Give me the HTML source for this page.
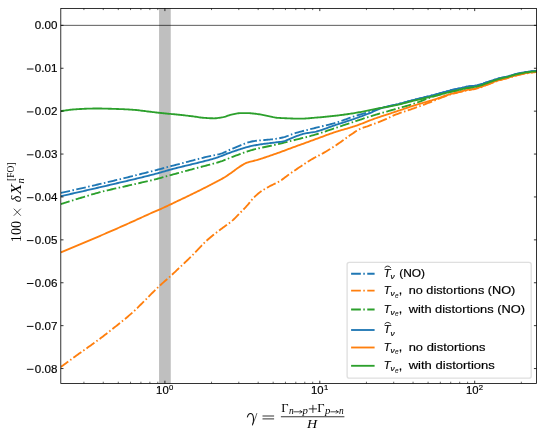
<!DOCTYPE html>
<html><head><meta charset="utf-8"><title>plot</title>
<style>
html,body{margin:0;padding:0;background:#fff;}
svg{display:block;will-change:transform;}
text{font-family:"Liberation Sans",sans-serif;fill:#000;}
.serif{font-family:"Liberation Serif",serif;}
</style></head><body>
<svg width="545" height="436" viewBox="0 0 545 436">
<rect x="0" y="0" width="545" height="436" fill="#fff"/>
<defs><clipPath id="ax"><rect x="60.8" y="8.4" width="475.8" height="375.0"/></clipPath></defs>

<rect x="159.05" y="8.4" width="11.70" height="375.0" fill="#bfbfbf"/>
<line x1="60.8" y1="25.35" x2="536.6" y2="25.35" stroke="#000" stroke-width="0.65"/>
<g clip-path="url(#ax)">
<path d="M60.90,192.90 L62.09,192.64 L63.29,192.37 L64.48,192.11 L65.67,191.84 L66.86,191.58 L68.06,191.31 L69.25,191.05 L70.44,190.78 L71.63,190.51 L72.83,190.24 L74.02,189.97 L75.21,189.70 L76.41,189.43 L77.60,189.16 L78.79,188.89 L79.98,188.62 L81.18,188.35 L82.37,188.07 L83.56,187.80 L84.75,187.53 L85.95,187.25 L87.14,186.98 L88.33,186.70 L89.53,186.42 L90.72,186.15 L91.91,185.87 L93.10,185.59 L94.30,185.31 L95.49,185.03 L96.68,184.76 L97.87,184.48 L99.07,184.19 L100.26,183.91 L101.45,183.63 L102.65,183.35 L103.84,183.07 L105.03,182.78 L106.22,182.50 L107.42,182.22 L108.61,181.93 L109.80,181.65 L110.99,181.36 L112.19,181.08 L113.38,180.79 L114.57,180.50 L115.77,180.21 L116.96,179.92 L118.15,179.63 L119.34,179.34 L120.54,179.05 L121.73,178.76 L122.92,178.47 L124.11,178.18 L125.31,177.88 L126.50,177.59 L127.69,177.30 L128.89,177.00 L130.08,176.71 L131.27,176.41 L132.46,176.11 L133.66,175.82 L134.85,175.52 L136.04,175.22 L137.23,174.92 L138.43,174.62 L139.62,174.32 L140.81,174.02 L142.01,173.72 L143.20,173.42 L144.39,173.11 L145.58,172.81 L146.78,172.51 L147.97,172.20 L149.16,171.90 L150.35,171.59 L151.55,171.29 L152.74,170.98 L153.93,170.67 L155.13,170.37 L156.32,170.06 L157.51,169.75 L158.70,169.43 L159.90,169.12 L161.09,168.80 L162.28,168.49 L163.47,168.17 L164.67,167.85 L165.86,167.53 L167.05,167.21 L168.25,166.89 L169.44,166.58 L170.63,166.26 L171.82,165.94 L173.02,165.62 L174.21,165.31 L175.40,164.99 L176.59,164.68 L177.79,164.36 L178.98,164.05 L180.17,163.73 L181.37,163.42 L182.56,163.10 L183.75,162.79 L184.94,162.47 L186.14,162.16 L187.33,161.84 L188.52,161.53 L189.72,161.22 L190.91,160.91 L192.10,160.60 L193.29,160.28 L194.49,159.97 L195.68,159.66 L196.87,159.34 L198.06,159.03 L199.26,158.72 L200.45,158.41 L201.64,158.11 L202.84,157.81 L204.03,157.51 L205.22,157.22 L206.41,156.94 L207.61,156.67 L208.80,156.42 L209.99,156.17 L211.18,155.93 L212.38,155.69 L213.57,155.44 L214.76,155.19 L215.96,154.93 L217.15,154.65 L218.34,154.35 L219.53,154.04 L220.73,153.69 L221.92,153.30 L223.11,152.86 L224.30,152.37 L225.50,151.85 L226.69,151.31 L227.88,150.75 L229.08,150.18 L230.27,149.62 L231.46,149.07 L232.65,148.55 L233.85,148.06 L235.04,147.59 L236.23,147.11 L237.42,146.61 L238.62,146.12 L239.81,145.62 L241.00,145.12 L242.20,144.63 L243.39,144.15 L244.58,143.69 L245.77,143.25 L246.97,142.84 L248.16,142.45 L249.35,142.09 L250.54,141.77 L251.74,141.50 L252.93,141.26 L254.12,141.07 L255.32,140.90 L256.51,140.75 L257.70,140.61 L258.89,140.48 L260.09,140.36 L261.28,140.26 L262.47,140.15 L263.66,140.06 L264.86,139.96 L266.05,139.87 L267.24,139.77 L268.44,139.67 L269.63,139.56 L270.82,139.45 L272.01,139.32 L273.21,139.18 L274.40,139.03 L275.59,138.86 L276.78,138.68 L277.98,138.48 L279.17,138.27 L280.36,138.03 L281.56,137.78 L282.75,137.51 L283.94,137.22 L285.13,136.87 L286.33,136.47 L287.52,136.01 L288.71,135.52 L289.90,135.03 L291.10,134.54 L292.29,134.09 L293.48,133.69 L294.68,133.32 L295.87,132.97 L297.06,132.62 L298.25,132.28 L299.45,131.95 L300.64,131.63 L301.83,131.31 L303.02,131.00 L304.22,130.70 L305.41,130.40 L306.60,130.10 L307.80,129.80 L308.99,129.51 L310.18,129.21 L311.37,128.92 L312.57,128.62 L313.76,128.32 L314.95,128.01 L316.14,127.71 L317.34,127.41 L318.53,127.12 L319.72,126.83 L320.92,126.55 L322.11,126.27 L323.30,125.98 L324.49,125.70 L325.69,125.42 L326.88,125.13 L328.07,124.84 L329.26,124.54 L330.46,124.23 L331.65,123.92 L332.84,123.60 L334.04,123.27 L335.23,122.92 L336.42,122.56 L337.61,122.19 L338.81,121.80 L340.00,121.39 L341.19,120.98 L342.38,120.56 L343.58,120.13 L344.77,119.70 L345.96,119.26 L347.16,118.83 L348.35,118.40 L349.54,117.97 L350.73,117.54 L351.93,117.12 L353.12,116.72 L354.31,116.32 L355.50,115.94 L356.70,115.57 L357.89,115.20 L359.08,114.84 L360.28,114.49 L361.47,114.14 L362.66,113.79 L363.85,113.45 L365.05,113.10 L366.24,112.75 L367.43,112.39 L368.62,112.03 L369.82,111.66 L371.01,111.28 L372.20,110.88 L373.40,110.47 L374.59,110.05 L375.78,109.64 L376.97,109.23 L378.17,108.84 L379.36,108.46 L380.55,108.11 L381.74,107.78 L382.94,107.47 L384.13,107.18 L385.32,106.89 L386.52,106.62 L387.71,106.35 L388.90,106.09 L390.09,105.84 L391.29,105.58 L392.48,105.33 L393.67,105.08 L394.86,104.82 L396.06,104.56 L397.25,104.29 L398.44,104.02 L399.64,103.73 L400.83,103.43 L402.02,103.13 L403.21,102.81 L404.41,102.49 L405.60,102.16 L406.79,101.83 L407.98,101.50 L409.18,101.17 L410.37,100.84 L411.56,100.52 L412.76,100.19 L413.95,99.88 L415.14,99.57 L416.33,99.27 L417.53,98.98 L418.72,98.69 L419.91,98.40 L421.11,98.12 L422.30,97.84 L423.49,97.56 L424.68,97.27 L425.88,96.99 L427.07,96.70 L428.26,96.41 L429.45,96.11 L430.65,95.81 L431.84,95.50 L433.03,95.18 L434.23,94.87 L435.42,94.55 L436.61,94.22 L437.80,93.90 L439.00,93.57 L440.19,93.25 L441.38,92.92 L442.57,92.58 L443.77,92.23 L444.96,91.89 L446.15,91.54 L447.35,91.21 L448.54,90.88 L449.73,90.57 L450.92,90.27 L452.12,89.98 L453.31,89.70 L454.50,89.42 L455.69,89.15 L456.89,88.89 L458.08,88.62 L459.27,88.36 L460.47,88.10 L461.66,87.82 L462.85,87.55 L464.04,87.28 L465.24,87.02 L466.43,86.78 L467.62,86.56 L468.81,86.38 L470.01,86.23 L471.20,86.10 L472.39,85.97 L473.59,85.83 L474.78,85.66 L475.97,85.45 L477.16,85.19 L478.36,84.89 L479.55,84.58 L480.74,84.25 L481.93,83.90 L483.13,83.53 L484.32,83.13 L485.51,82.73 L486.71,82.32 L487.90,81.91 L489.09,81.51 L490.28,81.09 L491.48,80.68 L492.67,80.27 L493.86,79.87 L495.05,79.49 L496.25,79.14 L497.44,78.79 L498.63,78.46 L499.83,78.14 L501.02,77.84 L502.21,77.56 L503.40,77.30 L504.60,77.05 L505.79,76.80 L506.98,76.54 L508.17,76.26 L509.37,75.94 L510.56,75.59 L511.75,75.23 L512.95,74.88 L514.14,74.53 L515.33,74.22 L516.52,73.93 L517.72,73.65 L518.91,73.37 L520.10,73.11 L521.29,72.86 L522.49,72.62 L523.68,72.40 L524.87,72.20 L526.07,72.02 L527.26,71.86 L528.45,71.70 L529.64,71.55 L530.84,71.41 L532.03,71.28 L533.22,71.17 L534.41,71.06 L535.61,70.97 L536.80,70.90" fill="none" stroke="#1f77b4" stroke-width="1.85" stroke-linejoin="round" stroke-dasharray="9.75 2.44 1.52 2.44" stroke-dashoffset="0.4"/>
<path d="M60.90,366.90 L62.09,366.02 L63.29,365.14 L64.48,364.26 L65.67,363.39 L66.86,362.51 L68.06,361.64 L69.25,360.77 L70.44,359.90 L71.63,359.03 L72.83,358.16 L74.02,357.30 L75.21,356.43 L76.41,355.57 L77.60,354.71 L78.79,353.85 L79.98,352.99 L81.18,352.14 L82.37,351.30 L83.56,350.46 L84.75,349.62 L85.95,348.78 L87.14,347.95 L88.33,347.11 L89.53,346.27 L90.72,345.42 L91.91,344.58 L93.10,343.72 L94.30,342.86 L95.49,341.99 L96.68,341.11 L97.87,340.23 L99.07,339.34 L100.26,338.44 L101.45,337.54 L102.65,336.64 L103.84,335.73 L105.03,334.82 L106.22,333.90 L107.42,332.98 L108.61,332.05 L109.80,331.12 L110.99,330.18 L112.19,329.24 L113.38,328.29 L114.57,327.34 L115.77,326.39 L116.96,325.44 L118.15,324.48 L119.34,323.53 L120.54,322.57 L121.73,321.61 L122.92,320.64 L124.11,319.67 L125.31,318.68 L126.50,317.69 L127.69,316.69 L128.89,315.67 L130.08,314.65 L131.27,313.60 L132.46,312.54 L133.66,311.47 L134.85,310.36 L136.04,309.22 L137.23,308.06 L138.43,306.88 L139.62,305.69 L140.81,304.49 L142.01,303.29 L143.20,302.09 L144.39,300.91 L145.58,299.73 L146.78,298.53 L147.97,297.33 L149.16,296.12 L150.35,294.92 L151.55,293.71 L152.74,292.51 L153.93,291.31 L155.13,290.13 L156.32,288.96 L157.51,287.80 L158.70,286.66 L159.90,285.54 L161.09,284.45 L162.28,283.38 L163.47,282.33 L164.67,281.28 L165.86,280.24 L167.05,279.20 L168.25,278.15 L169.44,277.08 L170.63,276.00 L171.82,274.90 L173.02,273.79 L174.21,272.67 L175.40,271.55 L176.59,270.42 L177.79,269.30 L178.98,268.17 L180.17,267.04 L181.37,265.92 L182.56,264.79 L183.75,263.66 L184.94,262.53 L186.14,261.39 L187.33,260.25 L188.52,259.10 L189.72,257.94 L190.91,256.78 L192.10,255.60 L193.29,254.40 L194.49,253.17 L195.68,251.91 L196.87,250.64 L198.06,249.36 L199.26,248.09 L200.45,246.82 L201.64,245.56 L202.84,244.33 L204.03,243.13 L205.22,241.97 L206.41,240.86 L207.61,239.79 L208.80,238.75 L209.99,237.74 L211.18,236.75 L212.38,235.78 L213.57,234.83 L214.76,233.90 L215.96,232.97 L217.15,232.05 L218.34,231.14 L219.53,230.23 L220.73,229.32 L221.92,228.41 L223.11,227.53 L224.30,226.68 L225.50,225.84 L226.69,225.01 L227.88,224.16 L229.08,223.28 L230.27,222.37 L231.46,221.40 L232.65,220.37 L233.85,219.26 L235.04,218.11 L236.23,216.91 L237.42,215.68 L238.62,214.44 L239.81,213.21 L241.00,211.99 L242.20,210.77 L243.39,209.55 L244.58,208.32 L245.77,207.05 L246.97,205.74 L248.16,204.38 L249.35,202.88 L250.54,201.33 L251.74,199.89 L252.93,198.61 L254.12,197.38 L255.32,196.20 L256.51,195.07 L257.70,194.01 L258.89,193.03 L260.09,192.11 L261.28,191.26 L262.47,190.46 L263.66,189.71 L264.86,188.99 L266.05,188.29 L267.24,187.61 L268.44,186.94 L269.63,186.29 L270.82,185.67 L272.01,185.09 L273.21,184.52 L274.40,183.96 L275.59,183.39 L276.78,182.79 L277.98,182.17 L279.17,181.50 L280.36,180.77 L281.56,179.97 L282.75,179.13 L283.94,178.25 L285.13,177.34 L286.33,176.43 L287.52,175.52 L288.71,174.63 L289.90,173.77 L291.10,172.93 L292.29,172.11 L293.48,171.29 L294.68,170.48 L295.87,169.67 L297.06,168.87 L298.25,168.07 L299.45,167.27 L300.64,166.47 L301.83,165.66 L303.02,164.85 L304.22,164.04 L305.41,163.24 L306.60,162.44 L307.80,161.67 L308.99,160.92 L310.18,160.19 L311.37,159.50 L312.57,158.83 L313.76,158.18 L314.95,157.54 L316.14,156.91 L317.34,156.29 L318.53,155.67 L319.72,155.05 L320.92,154.41 L322.11,153.76 L323.30,153.09 L324.49,152.39 L325.69,151.69 L326.88,150.97 L328.07,150.25 L329.26,149.51 L330.46,148.76 L331.65,148.01 L332.84,147.25 L334.04,146.48 L335.23,145.70 L336.42,144.92 L337.61,144.12 L338.81,143.31 L340.00,142.48 L341.19,141.63 L342.38,140.76 L343.58,139.89 L344.77,139.02 L345.96,138.14 L347.16,137.28 L348.35,136.42 L349.54,135.59 L350.73,134.78 L351.93,133.98 L353.12,133.18 L354.31,132.37 L355.50,131.58 L356.70,130.81 L357.89,130.10 L359.08,129.45 L360.28,128.88 L361.47,128.37 L362.66,127.92 L363.85,127.49 L365.05,127.09 L366.24,126.69 L367.43,126.28 L368.62,125.84 L369.82,125.41 L371.01,124.97 L372.20,124.54 L373.40,124.11 L374.59,123.68 L375.78,123.25 L376.97,122.81 L378.17,122.37 L379.36,121.91 L380.55,121.45 L381.74,120.97 L382.94,120.48 L384.13,119.97 L385.32,119.43 L386.52,118.87 L387.71,118.29 L388.90,117.70 L390.09,117.12 L391.29,116.55 L392.48,115.99 L393.67,115.46 L394.86,114.95 L396.06,114.48 L397.25,114.02 L398.44,113.58 L399.64,113.15 L400.83,112.73 L402.02,112.32 L403.21,111.91 L404.41,111.51 L405.60,111.12 L406.79,110.72 L407.98,110.33 L409.18,109.94 L410.37,109.54 L411.56,109.13 L412.76,108.72 L413.95,108.31 L415.14,107.88 L416.33,107.44 L417.53,107.01 L418.72,106.57 L419.91,106.13 L421.11,105.68 L422.30,105.24 L423.49,104.79 L424.68,104.34 L425.88,103.89 L427.07,103.44 L428.26,102.98 L429.45,102.53 L430.65,102.07 L431.84,101.61 L433.03,101.16 L434.23,100.70 L435.42,100.24 L436.61,99.76 L437.80,99.27 L439.00,98.77 L440.19,98.27 L441.38,97.76 L442.57,97.26 L443.77,96.77 L444.96,96.29 L446.15,95.82 L447.35,95.38 L448.54,94.97 L449.73,94.58 L450.92,94.23 L452.12,93.90 L453.31,93.59 L454.50,93.29 L455.69,93.01 L456.89,92.73 L458.08,92.45 L459.27,92.17 L460.47,91.89 L461.66,91.60 L462.85,91.30 L464.04,91.01 L465.24,90.73 L466.43,90.47 L467.62,90.22 L468.81,89.99 L470.01,89.79 L471.20,89.61 L472.39,89.43 L473.59,89.23 L474.78,89.00 L475.97,88.72 L477.16,88.40 L478.36,88.04 L479.55,87.65 L480.74,87.26 L481.93,86.85 L483.13,86.41 L484.32,85.94 L485.51,85.47 L486.71,84.99 L487.90,84.53 L489.09,84.06 L490.28,83.59 L491.48,83.12 L492.67,82.65 L493.86,82.20 L495.05,81.77 L496.25,81.36 L497.44,80.96 L498.63,80.58 L499.83,80.21 L501.02,79.85 L502.21,79.52 L503.40,79.20 L504.60,78.89 L505.79,78.59 L506.98,78.28 L508.17,77.95 L509.37,77.60 L510.56,77.23 L511.75,76.85 L512.95,76.48 L514.14,76.12 L515.33,75.79 L516.52,75.48 L517.72,75.18 L518.91,74.89 L520.10,74.60 L521.29,74.33 L522.49,74.07 L523.68,73.83 L524.87,73.61 L526.07,73.41 L527.26,73.23 L528.45,73.05 L529.64,72.88 L530.84,72.72 L532.03,72.57 L533.22,72.43 L534.41,72.31 L535.61,72.20 L536.80,72.10" fill="none" stroke="#ff7f0e" stroke-width="1.85" stroke-linejoin="round" stroke-dasharray="9.75 2.44 1.52 2.44" stroke-dashoffset="0.7"/>
<path d="M60.90,204.10 L62.09,203.71 L63.29,203.33 L64.48,202.95 L65.67,202.57 L66.86,202.19 L68.06,201.81 L69.25,201.43 L70.44,201.06 L71.63,200.68 L72.83,200.31 L74.02,199.94 L75.21,199.57 L76.41,199.20 L77.60,198.83 L78.79,198.47 L79.98,198.10 L81.18,197.74 L82.37,197.38 L83.56,197.01 L84.75,196.64 L85.95,196.28 L87.14,195.91 L88.33,195.55 L89.53,195.19 L90.72,194.83 L91.91,194.48 L93.10,194.12 L94.30,193.78 L95.49,193.44 L96.68,193.10 L97.87,192.77 L99.07,192.45 L100.26,192.13 L101.45,191.82 L102.65,191.52 L103.84,191.22 L105.03,190.92 L106.22,190.63 L107.42,190.35 L108.61,190.06 L109.80,189.78 L110.99,189.50 L112.19,189.23 L113.38,188.96 L114.57,188.68 L115.77,188.41 L116.96,188.15 L118.15,187.88 L119.34,187.61 L120.54,187.35 L121.73,187.08 L122.92,186.81 L124.11,186.54 L125.31,186.27 L126.50,186.00 L127.69,185.73 L128.89,185.46 L130.08,185.18 L131.27,184.91 L132.46,184.63 L133.66,184.36 L134.85,184.09 L136.04,183.82 L137.23,183.55 L138.43,183.28 L139.62,183.01 L140.81,182.74 L142.01,182.47 L143.20,182.20 L144.39,181.93 L145.58,181.66 L146.78,181.38 L147.97,181.10 L149.16,180.82 L150.35,180.54 L151.55,180.25 L152.74,179.96 L153.93,179.67 L155.13,179.37 L156.32,179.06 L157.51,178.75 L158.70,178.44 L159.90,178.12 L161.09,177.79 L162.28,177.47 L163.47,177.13 L164.67,176.80 L165.86,176.47 L167.05,176.13 L168.25,175.80 L169.44,175.47 L170.63,175.13 L171.82,174.80 L173.02,174.48 L174.21,174.15 L175.40,173.83 L176.59,173.50 L177.79,173.18 L178.98,172.85 L180.17,172.53 L181.37,172.20 L182.56,171.87 L183.75,171.55 L184.94,171.23 L186.14,170.90 L187.33,170.58 L188.52,170.26 L189.72,169.93 L190.91,169.61 L192.10,169.29 L193.29,168.97 L194.49,168.66 L195.68,168.34 L196.87,168.03 L198.06,167.71 L199.26,167.40 L200.45,167.08 L201.64,166.77 L202.84,166.45 L204.03,166.13 L205.22,165.81 L206.41,165.49 L207.61,165.17 L208.80,164.86 L209.99,164.55 L211.18,164.24 L212.38,163.92 L213.57,163.60 L214.76,163.27 L215.96,162.94 L217.15,162.60 L218.34,162.24 L219.53,161.87 L220.73,161.49 L221.92,161.09 L223.11,160.66 L224.30,160.20 L225.50,159.73 L226.69,159.25 L227.88,158.76 L229.08,158.26 L230.27,157.77 L231.46,157.28 L232.65,156.80 L233.85,156.33 L235.04,155.89 L236.23,155.45 L237.42,155.01 L238.62,154.57 L239.81,154.13 L241.00,153.69 L242.20,153.26 L243.39,152.83 L244.58,152.40 L245.77,151.99 L246.97,151.58 L248.16,151.19 L249.35,150.81 L250.54,150.44 L251.74,150.09 L252.93,149.75 L254.12,149.43 L255.32,149.13 L256.51,148.83 L257.70,148.55 L258.89,148.27 L260.09,148.01 L261.28,147.75 L262.47,147.50 L263.66,147.25 L264.86,147.00 L266.05,146.76 L267.24,146.52 L268.44,146.27 L269.63,146.03 L270.82,145.78 L272.01,145.52 L273.21,145.26 L274.40,144.99 L275.59,144.71 L276.78,144.43 L277.98,144.15 L279.17,143.86 L280.36,143.57 L281.56,143.28 L282.75,142.99 L283.94,142.70 L285.13,142.40 L286.33,142.10 L287.52,141.81 L288.71,141.51 L289.90,141.21 L291.10,140.91 L292.29,140.61 L293.48,140.30 L294.68,140.00 L295.87,139.70 L297.06,139.41 L298.25,139.11 L299.45,138.81 L300.64,138.51 L301.83,138.21 L303.02,137.91 L304.22,137.61 L305.41,137.31 L306.60,137.00 L307.80,136.69 L308.99,136.37 L310.18,136.05 L311.37,135.72 L312.57,135.39 L313.76,135.06 L314.95,134.71 L316.14,134.36 L317.34,134.00 L318.53,133.63 L319.72,133.26 L320.92,132.87 L322.11,132.48 L323.30,132.09 L324.49,131.69 L325.69,131.29 L326.88,130.88 L328.07,130.48 L329.26,130.07 L330.46,129.66 L331.65,129.26 L332.84,128.86 L334.04,128.45 L335.23,128.06 L336.42,127.66 L337.61,127.26 L338.81,126.86 L340.00,126.46 L341.19,126.05 L342.38,125.65 L343.58,125.24 L344.77,124.84 L345.96,124.43 L347.16,124.03 L348.35,123.62 L349.54,123.22 L350.73,122.82 L351.93,122.42 L353.12,122.02 L354.31,121.63 L355.50,121.23 L356.70,120.84 L357.89,120.45 L359.08,120.05 L360.28,119.66 L361.47,119.26 L362.66,118.87 L363.85,118.48 L365.05,118.09 L366.24,117.70 L367.43,117.31 L368.62,116.93 L369.82,116.55 L371.01,116.17 L372.20,115.80 L373.40,115.43 L374.59,115.06 L375.78,114.70 L376.97,114.35 L378.17,113.99 L379.36,113.65 L380.55,113.30 L381.74,112.96 L382.94,112.62 L384.13,112.28 L385.32,111.94 L386.52,111.61 L387.71,111.27 L388.90,110.93 L390.09,110.60 L391.29,110.26 L392.48,109.92 L393.67,109.58 L394.86,109.24 L396.06,108.90 L397.25,108.56 L398.44,108.23 L399.64,107.89 L400.83,107.56 L402.02,107.23 L403.21,106.90 L404.41,106.57 L405.60,106.24 L406.79,105.90 L407.98,105.56 L409.18,105.21 L410.37,104.85 L411.56,104.49 L412.76,104.11 L413.95,103.73 L415.14,103.34 L416.33,102.92 L417.53,102.47 L418.72,102.01 L419.91,101.53 L421.11,101.04 L422.30,100.55 L423.49,100.06 L424.68,99.57 L425.88,99.09 L427.07,98.63 L428.26,98.19 L429.45,97.78 L430.65,97.39 L431.84,97.02 L433.03,96.65 L434.23,96.29 L435.42,95.94 L436.61,95.60 L437.80,95.26 L439.00,94.93 L440.19,94.61 L441.38,94.29 L442.57,93.98 L443.77,93.67 L444.96,93.36 L446.15,93.06 L447.35,92.76 L448.54,92.46 L449.73,92.17 L450.92,91.87 L452.12,91.59 L453.31,91.31 L454.50,91.03 L455.69,90.76 L456.89,90.49 L458.08,90.22 L459.27,89.96 L460.47,89.70 L461.66,89.43 L462.85,89.16 L464.04,88.89 L465.24,88.63 L466.43,88.39 L467.62,88.17 L468.81,87.97 L470.01,87.80 L471.20,87.65 L472.39,87.50 L473.59,87.34 L474.78,87.14 L475.97,86.90 L477.16,86.61 L478.36,86.29 L479.55,85.94 L480.74,85.58 L481.93,85.21 L483.13,84.80 L484.32,84.38 L485.51,83.94 L486.71,83.50 L487.90,83.06 L489.09,82.63 L490.28,82.19 L491.48,81.74 L492.67,81.31 L493.86,80.88 L495.05,80.48 L496.25,80.10 L497.44,79.73 L498.63,79.37 L499.83,79.02 L501.02,78.70 L502.21,78.39 L503.40,78.10 L504.60,77.82 L505.79,77.54 L506.98,77.26 L508.17,76.95 L509.37,76.62 L510.56,76.27 L511.75,75.91 L512.95,75.55 L514.14,75.21 L515.33,74.89 L516.52,74.60 L517.72,74.32 L518.91,74.04 L520.10,73.77 L521.29,73.51 L522.49,73.27 L523.68,73.04 L524.87,72.84 L526.07,72.66 L527.26,72.49 L528.45,72.33 L529.64,72.18 L530.84,72.03 L532.03,71.90 L533.22,71.78 L534.41,71.67 L535.61,71.58 L536.80,71.50" fill="none" stroke="#2ca02c" stroke-width="1.85" stroke-linejoin="round" stroke-dasharray="9.75 2.44 1.52 2.44" stroke-dashoffset="0.6"/>
<path d="M60.90,196.15 L62.09,195.88 L63.29,195.62 L64.48,195.35 L65.67,195.09 L66.86,194.82 L68.06,194.55 L69.25,194.28 L70.44,194.02 L71.63,193.75 L72.83,193.48 L74.02,193.21 L75.21,192.94 L76.41,192.67 L77.60,192.40 L78.79,192.13 L79.98,191.86 L81.18,191.58 L82.37,191.31 L83.56,191.04 L84.75,190.77 L85.95,190.49 L87.14,190.22 L88.33,189.94 L89.53,189.67 L90.72,189.40 L91.91,189.12 L93.10,188.84 L94.30,188.57 L95.49,188.29 L96.68,188.02 L97.87,187.74 L99.07,187.46 L100.26,187.18 L101.45,186.90 L102.65,186.63 L103.84,186.35 L105.03,186.07 L106.22,185.79 L107.42,185.51 L108.61,185.23 L109.80,184.95 L110.99,184.67 L112.19,184.39 L113.38,184.11 L114.57,183.83 L115.77,183.55 L116.96,183.27 L118.15,182.99 L119.34,182.71 L120.54,182.43 L121.73,182.15 L122.92,181.87 L124.11,181.59 L125.31,181.31 L126.50,181.03 L127.69,180.75 L128.89,180.46 L130.08,180.18 L131.27,179.90 L132.46,179.61 L133.66,179.33 L134.85,179.04 L136.04,178.76 L137.23,178.47 L138.43,178.18 L139.62,177.89 L140.81,177.60 L142.01,177.30 L143.20,177.01 L144.39,176.71 L145.58,176.41 L146.78,176.11 L147.97,175.81 L149.16,175.51 L150.35,175.21 L151.55,174.90 L152.74,174.59 L153.93,174.28 L155.13,173.97 L156.32,173.65 L157.51,173.32 L158.70,172.99 L159.90,172.65 L161.09,172.31 L162.28,171.97 L163.47,171.62 L164.67,171.27 L165.86,170.93 L167.05,170.58 L168.25,170.24 L169.44,169.90 L170.63,169.57 L171.82,169.24 L173.02,168.92 L174.21,168.61 L175.40,168.30 L176.59,168.00 L177.79,167.70 L178.98,167.40 L180.17,167.10 L181.37,166.81 L182.56,166.52 L183.75,166.23 L184.94,165.94 L186.14,165.65 L187.33,165.36 L188.52,165.07 L189.72,164.78 L190.91,164.49 L192.10,164.20 L193.29,163.92 L194.49,163.63 L195.68,163.33 L196.87,163.04 L198.06,162.74 L199.26,162.45 L200.45,162.15 L201.64,161.86 L202.84,161.56 L204.03,161.26 L205.22,160.96 L206.41,160.65 L207.61,160.34 L208.80,160.02 L209.99,159.69 L211.18,159.36 L212.38,159.02 L213.57,158.67 L214.76,158.31 L215.96,157.94 L217.15,157.54 L218.34,157.13 L219.53,156.70 L220.73,156.25 L221.92,155.80 L223.11,155.34 L224.30,154.88 L225.50,154.41 L226.69,153.94 L227.88,153.48 L229.08,153.02 L230.27,152.56 L231.46,152.12 L232.65,151.69 L233.85,151.28 L235.04,150.89 L236.23,150.50 L237.42,150.11 L238.62,149.72 L239.81,149.33 L241.00,148.94 L242.20,148.56 L243.39,148.19 L244.58,147.82 L245.77,147.47 L246.97,147.13 L248.16,146.80 L249.35,146.49 L250.54,146.19 L251.74,145.92 L252.93,145.67 L254.12,145.44 L255.32,145.23 L256.51,145.02 L257.70,144.82 L258.89,144.63 L260.09,144.45 L261.28,144.28 L262.47,144.11 L263.66,143.95 L264.86,143.79 L266.05,143.63 L267.24,143.48 L268.44,143.33 L269.63,143.18 L270.82,143.03 L272.01,142.88 L273.21,142.73 L274.40,142.58 L275.59,142.43 L276.78,142.29 L277.98,142.17 L279.17,142.04 L280.36,141.90 L281.56,141.73 L282.75,141.51 L283.94,141.21 L285.13,140.82 L286.33,140.37 L287.52,139.87 L288.71,139.34 L289.90,138.81 L291.10,138.28 L292.29,137.79 L293.48,137.33 L294.68,136.89 L295.87,136.44 L297.06,135.98 L298.25,135.53 L299.45,135.10 L300.64,134.68 L301.83,134.29 L303.02,133.95 L304.22,133.64 L305.41,133.39 L306.60,133.16 L307.80,132.97 L308.99,132.79 L310.18,132.62 L311.37,132.44 L312.57,132.26 L313.76,132.05 L314.95,131.81 L316.14,131.54 L317.34,131.23 L318.53,130.90 L319.72,130.55 L320.92,130.17 L322.11,129.78 L323.30,129.37 L324.49,128.95 L325.69,128.52 L326.88,128.08 L328.07,127.64 L329.26,127.21 L330.46,126.77 L331.65,126.34 L332.84,125.92 L334.04,125.51 L335.23,125.11 L336.42,124.72 L337.61,124.33 L338.81,123.94 L340.00,123.56 L341.19,123.17 L342.38,122.79 L343.58,122.41 L344.77,122.02 L345.96,121.63 L347.16,121.24 L348.35,120.85 L349.54,120.46 L350.73,120.06 L351.93,119.66 L353.12,119.25 L354.31,118.84 L355.50,118.42 L356.70,118.00 L357.89,117.58 L359.08,117.15 L360.28,116.71 L361.47,116.28 L362.66,115.83 L363.85,115.39 L365.05,114.93 L366.24,114.48 L367.43,114.01 L368.62,113.55 L369.82,113.07 L371.01,112.58 L372.20,112.06 L373.40,111.51 L374.59,110.95 L375.78,110.40 L376.97,109.86 L378.17,109.34 L379.36,108.86 L380.55,108.43 L381.74,108.05 L382.94,107.69 L384.13,107.36 L385.32,107.04 L386.52,106.74 L387.71,106.45 L388.90,106.17 L390.09,105.90 L391.29,105.64 L392.48,105.38 L393.67,105.12 L394.86,104.85 L396.06,104.58 L397.25,104.31 L398.44,104.03 L399.64,103.73 L400.83,103.43 L402.02,103.11 L403.21,102.79 L404.41,102.47 L405.60,102.14 L406.79,101.82 L407.98,101.49 L409.18,101.16 L410.37,100.83 L411.56,100.51 L412.76,100.19 L413.95,99.88 L415.14,99.57 L416.33,99.27 L417.53,98.98 L418.72,98.69 L419.91,98.40 L421.11,98.12 L422.30,97.84 L423.49,97.56 L424.68,97.27 L425.88,96.99 L427.07,96.70 L428.26,96.41 L429.45,96.11 L430.65,95.81 L431.84,95.50 L433.03,95.18 L434.23,94.87 L435.42,94.55 L436.61,94.22 L437.80,93.90 L439.00,93.57 L440.19,93.25 L441.38,92.92 L442.57,92.58 L443.77,92.23 L444.96,91.89 L446.15,91.54 L447.35,91.21 L448.54,90.88 L449.73,90.57 L450.92,90.27 L452.12,89.98 L453.31,89.70 L454.50,89.42 L455.69,89.15 L456.89,88.89 L458.08,88.62 L459.27,88.36 L460.47,88.10 L461.66,87.82 L462.85,87.55 L464.04,87.28 L465.24,87.02 L466.43,86.78 L467.62,86.56 L468.81,86.38 L470.01,86.23 L471.20,86.10 L472.39,85.97 L473.59,85.83 L474.78,85.66 L475.97,85.45 L477.16,85.19 L478.36,84.89 L479.55,84.58 L480.74,84.25 L481.93,83.90 L483.13,83.53 L484.32,83.13 L485.51,82.73 L486.71,82.32 L487.90,81.91 L489.09,81.51 L490.28,81.09 L491.48,80.68 L492.67,80.27 L493.86,79.87 L495.05,79.49 L496.25,79.14 L497.44,78.79 L498.63,78.46 L499.83,78.14 L501.02,77.84 L502.21,77.56 L503.40,77.30 L504.60,77.05 L505.79,76.80 L506.98,76.54 L508.17,76.26 L509.37,75.94 L510.56,75.59 L511.75,75.23 L512.95,74.88 L514.14,74.53 L515.33,74.22 L516.52,73.93 L517.72,73.65 L518.91,73.37 L520.10,73.11 L521.29,72.86 L522.49,72.62 L523.68,72.40 L524.87,72.20 L526.07,72.02 L527.26,71.86 L528.45,71.70 L529.64,71.55 L530.84,71.41 L532.03,71.28 L533.22,71.17 L534.41,71.06 L535.61,70.97 L536.80,70.90" fill="none" stroke="#1f77b4" stroke-width="1.85" stroke-linejoin="round"/>
<path d="M60.90,252.40 L62.09,251.89 L63.29,251.38 L64.48,250.87 L65.67,250.36 L66.86,249.85 L68.06,249.34 L69.25,248.83 L70.44,248.33 L71.63,247.82 L72.83,247.31 L74.02,246.81 L75.21,246.30 L76.41,245.80 L77.60,245.30 L78.79,244.79 L79.98,244.29 L81.18,243.79 L82.37,243.29 L83.56,242.80 L84.75,242.30 L85.95,241.80 L87.14,241.31 L88.33,240.81 L89.53,240.31 L90.72,239.82 L91.91,239.32 L93.10,238.82 L94.30,238.32 L95.49,237.81 L96.68,237.31 L97.87,236.80 L99.07,236.29 L100.26,235.78 L101.45,235.27 L102.65,234.76 L103.84,234.25 L105.03,233.73 L106.22,233.22 L107.42,232.70 L108.61,232.19 L109.80,231.67 L110.99,231.15 L112.19,230.63 L113.38,230.11 L114.57,229.59 L115.77,229.06 L116.96,228.54 L118.15,228.01 L119.34,227.49 L120.54,226.96 L121.73,226.43 L122.92,225.90 L124.11,225.36 L125.31,224.83 L126.50,224.30 L127.69,223.76 L128.89,223.23 L130.08,222.69 L131.27,222.16 L132.46,221.62 L133.66,221.08 L134.85,220.55 L136.04,220.01 L137.23,219.46 L138.43,218.92 L139.62,218.37 L140.81,217.83 L142.01,217.28 L143.20,216.74 L144.39,216.19 L145.58,215.65 L146.78,215.11 L147.97,214.57 L149.16,214.03 L150.35,213.50 L151.55,212.97 L152.74,212.44 L153.93,211.93 L155.13,211.42 L156.32,210.91 L157.51,210.39 L158.70,209.87 L159.90,209.35 L161.09,208.81 L162.28,208.27 L163.47,207.72 L164.67,207.17 L165.86,206.61 L167.05,206.06 L168.25,205.50 L169.44,204.93 L170.63,204.37 L171.82,203.80 L173.02,203.23 L174.21,202.66 L175.40,202.09 L176.59,201.53 L177.79,200.96 L178.98,200.39 L180.17,199.82 L181.37,199.26 L182.56,198.69 L183.75,198.12 L184.94,197.56 L186.14,196.99 L187.33,196.42 L188.52,195.84 L189.72,195.27 L190.91,194.69 L192.10,194.10 L193.29,193.52 L194.49,192.93 L195.68,192.34 L196.87,191.75 L198.06,191.16 L199.26,190.57 L200.45,189.97 L201.64,189.37 L202.84,188.77 L204.03,188.17 L205.22,187.56 L206.41,186.95 L207.61,186.34 L208.80,185.72 L209.99,185.10 L211.18,184.49 L212.38,183.87 L213.57,183.26 L214.76,182.65 L215.96,182.03 L217.15,181.41 L218.34,180.79 L219.53,180.15 L220.73,179.49 L221.92,178.83 L223.11,178.14 L224.30,177.44 L225.50,176.71 L226.69,175.94 L227.88,175.14 L229.08,174.32 L230.27,173.49 L231.46,172.65 L232.65,171.81 L233.85,170.93 L235.04,170.03 L236.23,169.13 L237.42,168.25 L238.62,167.41 L239.81,166.64 L241.00,165.88 L242.20,165.13 L243.39,164.42 L244.58,163.76 L245.77,163.18 L246.97,162.70 L248.16,162.30 L249.35,161.94 L250.54,161.62 L251.74,161.33 L252.93,161.04 L254.12,160.76 L255.32,160.46 L256.51,160.14 L257.70,159.79 L258.89,159.43 L260.09,159.06 L261.28,158.68 L262.47,158.29 L263.66,157.90 L264.86,157.50 L266.05,157.10 L267.24,156.69 L268.44,156.29 L269.63,155.87 L270.82,155.46 L272.01,155.04 L273.21,154.63 L274.40,154.21 L275.59,153.79 L276.78,153.37 L277.98,152.95 L279.17,152.52 L280.36,152.08 L281.56,151.64 L282.75,151.21 L283.94,150.76 L285.13,150.32 L286.33,149.88 L287.52,149.44 L288.71,148.99 L289.90,148.55 L291.10,148.11 L292.29,147.67 L293.48,147.23 L294.68,146.80 L295.87,146.36 L297.06,145.93 L298.25,145.49 L299.45,145.06 L300.64,144.62 L301.83,144.19 L303.02,143.76 L304.22,143.32 L305.41,142.89 L306.60,142.45 L307.80,142.02 L308.99,141.59 L310.18,141.15 L311.37,140.72 L312.57,140.29 L313.76,139.85 L314.95,139.42 L316.14,138.98 L317.34,138.54 L318.53,138.10 L319.72,137.65 L320.92,137.21 L322.11,136.76 L323.30,136.31 L324.49,135.87 L325.69,135.42 L326.88,134.98 L328.07,134.55 L329.26,134.12 L330.46,133.69 L331.65,133.27 L332.84,132.86 L334.04,132.45 L335.23,132.06 L336.42,131.68 L337.61,131.30 L338.81,130.94 L340.00,130.58 L341.19,130.23 L342.38,129.89 L343.58,129.54 L344.77,129.20 L345.96,128.86 L347.16,128.52 L348.35,128.17 L349.54,127.82 L350.73,127.46 L351.93,127.09 L353.12,126.72 L354.31,126.33 L355.50,125.93 L356.70,125.51 L357.89,125.09 L359.08,124.65 L360.28,124.20 L361.47,123.74 L362.66,123.28 L363.85,122.81 L365.05,122.34 L366.24,121.86 L367.43,121.39 L368.62,120.92 L369.82,120.46 L371.01,120.00 L372.20,119.55 L373.40,119.11 L374.59,118.68 L375.78,118.25 L376.97,117.84 L378.17,117.43 L379.36,117.03 L380.55,116.63 L381.74,116.23 L382.94,115.84 L384.13,115.45 L385.32,115.06 L386.52,114.67 L387.71,114.28 L388.90,113.90 L390.09,113.51 L391.29,113.12 L392.48,112.73 L393.67,112.34 L394.86,111.94 L396.06,111.55 L397.25,111.15 L398.44,110.74 L399.64,110.34 L400.83,109.94 L402.02,109.53 L403.21,109.13 L404.41,108.72 L405.60,108.32 L406.79,107.92 L407.98,107.52 L409.18,107.12 L410.37,106.73 L411.56,106.34 L412.76,105.95 L413.95,105.57 L415.14,105.19 L416.33,104.82 L417.53,104.46 L418.72,104.10 L419.91,103.75 L421.11,103.40 L422.30,103.06 L423.49,102.72 L424.68,102.37 L425.88,102.03 L427.07,101.69 L428.26,101.34 L429.45,100.99 L430.65,100.64 L431.84,100.28 L433.03,99.92 L434.23,99.54 L435.42,99.17 L436.61,98.77 L437.80,98.36 L439.00,97.95 L440.19,97.52 L441.38,97.09 L442.57,96.66 L443.77,96.24 L444.96,95.82 L446.15,95.41 L447.35,95.01 L448.54,94.63 L449.73,94.28 L450.92,93.94 L452.12,93.62 L453.31,93.31 L454.50,93.02 L455.69,92.73 L456.89,92.44 L458.08,92.16 L459.27,91.87 L460.47,91.59 L461.66,91.30 L462.85,91.00 L464.04,90.71 L465.24,90.43 L466.43,90.17 L467.62,89.92 L468.81,89.69 L470.01,89.49 L471.20,89.31 L472.39,89.13 L473.59,88.93 L474.78,88.70 L475.97,88.42 L477.16,88.10 L478.36,87.74 L479.55,87.35 L480.74,86.96 L481.93,86.55 L483.13,86.11 L484.32,85.64 L485.51,85.17 L486.71,84.69 L487.90,84.23 L489.09,83.76 L490.28,83.29 L491.48,82.82 L492.67,82.35 L493.86,81.90 L495.05,81.47 L496.25,81.06 L497.44,80.66 L498.63,80.28 L499.83,79.91 L501.02,79.55 L502.21,79.22 L503.40,78.90 L504.60,78.59 L505.79,78.29 L506.98,77.98 L508.17,77.65 L509.37,77.30 L510.56,76.93 L511.75,76.55 L512.95,76.18 L514.14,75.82 L515.33,75.49 L516.52,75.18 L517.72,74.88 L518.91,74.59 L520.10,74.30 L521.29,74.03 L522.49,73.77 L523.68,73.53 L524.87,73.31 L526.07,73.11 L527.26,72.93 L528.45,72.75 L529.64,72.58 L530.84,72.42 L532.03,72.27 L533.22,72.13 L534.41,72.01 L535.61,71.90 L536.80,71.80" fill="none" stroke="#ff7f0e" stroke-width="1.85" stroke-linejoin="round"/>
<path d="M60.90,111.10 L62.09,110.92 L63.29,110.74 L64.48,110.56 L65.67,110.39 L66.86,110.23 L68.06,110.07 L69.25,109.92 L70.44,109.77 L71.63,109.64 L72.83,109.52 L74.02,109.40 L75.21,109.30 L76.41,109.21 L77.60,109.14 L78.79,109.07 L79.98,109.01 L81.18,108.96 L82.37,108.90 L83.56,108.84 L84.75,108.79 L85.95,108.74 L87.14,108.70 L88.33,108.65 L89.53,108.62 L90.72,108.58 L91.91,108.55 L93.10,108.53 L94.30,108.51 L95.49,108.50 L96.68,108.50 L97.87,108.50 L99.07,108.51 L100.26,108.52 L101.45,108.54 L102.65,108.56 L103.84,108.58 L105.03,108.61 L106.22,108.64 L107.42,108.67 L108.61,108.71 L109.80,108.74 L110.99,108.78 L112.19,108.81 L113.38,108.85 L114.57,108.89 L115.77,108.92 L116.96,108.96 L118.15,109.00 L119.34,109.05 L120.54,109.10 L121.73,109.15 L122.92,109.20 L124.11,109.25 L125.31,109.31 L126.50,109.38 L127.69,109.44 L128.89,109.51 L130.08,109.58 L131.27,109.66 L132.46,109.74 L133.66,109.82 L134.85,109.91 L136.04,110.02 L137.23,110.15 L138.43,110.28 L139.62,110.42 L140.81,110.57 L142.01,110.73 L143.20,110.88 L144.39,111.04 L145.58,111.19 L146.78,111.34 L147.97,111.48 L149.16,111.63 L150.35,111.77 L151.55,111.91 L152.74,112.06 L153.93,112.20 L155.13,112.34 L156.32,112.48 L157.51,112.62 L158.70,112.76 L159.90,112.89 L161.09,113.01 L162.28,113.14 L163.47,113.25 L164.67,113.37 L165.86,113.48 L167.05,113.60 L168.25,113.71 L169.44,113.82 L170.63,113.93 L171.82,114.05 L173.02,114.17 L174.21,114.29 L175.40,114.42 L176.59,114.54 L177.79,114.66 L178.98,114.79 L180.17,114.91 L181.37,115.04 L182.56,115.17 L183.75,115.29 L184.94,115.42 L186.14,115.56 L187.33,115.69 L188.52,115.83 L189.72,115.96 L190.91,116.11 L192.10,116.25 L193.29,116.41 L194.49,116.58 L195.68,116.76 L196.87,116.95 L198.06,117.13 L199.26,117.31 L200.45,117.48 L201.64,117.63 L202.84,117.76 L204.03,117.87 L205.22,117.95 L206.41,118.02 L207.61,118.09 L208.80,118.16 L209.99,118.21 L211.18,118.26 L212.38,118.29 L213.57,118.30 L214.76,118.28 L215.96,118.21 L217.15,118.09 L218.34,117.94 L219.53,117.77 L220.73,117.57 L221.92,117.37 L223.11,117.16 L224.30,116.89 L225.50,116.53 L226.69,116.12 L227.88,115.69 L229.08,115.26 L230.27,114.87 L231.46,114.54 L232.65,114.29 L233.85,114.05 L235.04,113.82 L236.23,113.60 L237.42,113.41 L238.62,113.25 L239.81,113.15 L241.00,113.10 L242.20,113.10 L243.39,113.10 L244.58,113.10 L245.77,113.10 L246.97,113.10 L248.16,113.13 L249.35,113.19 L250.54,113.27 L251.74,113.37 L252.93,113.49 L254.12,113.61 L255.32,113.73 L256.51,113.88 L257.70,114.05 L258.89,114.24 L260.09,114.46 L261.28,114.69 L262.47,114.93 L263.66,115.17 L264.86,115.42 L266.05,115.66 L267.24,115.90 L268.44,116.12 L269.63,116.36 L270.82,116.61 L272.01,116.87 L273.21,117.13 L274.40,117.36 L275.59,117.57 L276.78,117.73 L277.98,117.84 L279.17,117.93 L280.36,118.00 L281.56,118.07 L282.75,118.13 L283.94,118.19 L285.13,118.24 L286.33,118.28 L287.52,118.33 L288.71,118.38 L289.90,118.44 L291.10,118.49 L292.29,118.53 L293.48,118.58 L294.68,118.62 L295.87,118.65 L297.06,118.68 L298.25,118.69 L299.45,118.70 L300.64,118.69 L301.83,118.66 L303.02,118.62 L304.22,118.55 L305.41,118.48 L306.60,118.40 L307.80,118.31 L308.99,118.21 L310.18,118.11 L311.37,118.00 L312.57,117.90 L313.76,117.80 L314.95,117.70 L316.14,117.61 L317.34,117.52 L318.53,117.42 L319.72,117.31 L320.92,117.21 L322.11,117.10 L323.30,116.99 L324.49,116.88 L325.69,116.76 L326.88,116.65 L328.07,116.53 L329.26,116.40 L330.46,116.28 L331.65,116.15 L332.84,116.02 L334.04,115.89 L335.23,115.75 L336.42,115.61 L337.61,115.47 L338.81,115.33 L340.00,115.18 L341.19,115.02 L342.38,114.87 L343.58,114.71 L344.77,114.54 L345.96,114.38 L347.16,114.21 L348.35,114.03 L349.54,113.85 L350.73,113.67 L351.93,113.49 L353.12,113.30 L354.31,113.11 L355.50,112.92 L356.70,112.71 L357.89,112.50 L359.08,112.28 L360.28,112.05 L361.47,111.82 L362.66,111.58 L363.85,111.33 L365.05,111.09 L366.24,110.84 L367.43,110.59 L368.62,110.34 L369.82,110.09 L371.01,109.85 L372.20,109.61 L373.40,109.37 L374.59,109.14 L375.78,108.92 L376.97,108.70 L378.17,108.48 L379.36,108.27 L380.55,108.06 L381.74,107.85 L382.94,107.65 L384.13,107.44 L385.32,107.23 L386.52,107.02 L387.71,106.81 L388.90,106.59 L390.09,106.37 L391.29,106.15 L392.48,105.92 L393.67,105.68 L394.86,105.43 L396.06,105.17 L397.25,104.90 L398.44,104.62 L399.64,104.33 L400.83,104.03 L402.02,103.73 L403.21,103.42 L404.41,103.11 L405.60,102.79 L406.79,102.48 L407.98,102.17 L409.18,101.86 L410.37,101.55 L411.56,101.25 L412.76,100.96 L413.95,100.67 L415.14,100.39 L416.33,100.11 L417.53,99.84 L418.72,99.57 L419.91,99.30 L421.11,99.04 L422.30,98.77 L423.49,98.50 L424.68,98.23 L425.88,97.96 L427.07,97.69 L428.26,97.41 L429.45,97.13 L430.65,96.84 L431.84,96.55 L433.03,96.26 L434.23,95.96 L435.42,95.66 L436.61,95.36 L437.80,95.06 L439.00,94.76 L440.19,94.45 L441.38,94.14 L442.57,93.83 L443.77,93.51 L444.96,93.20 L446.15,92.88 L447.35,92.57 L448.54,92.26 L449.73,91.97 L450.92,91.68 L452.12,91.39 L453.31,91.11 L454.50,90.83 L455.69,90.56 L456.89,90.29 L458.08,90.03 L459.27,89.76 L460.47,89.50 L461.66,89.23 L462.85,88.96 L464.04,88.69 L465.24,88.43 L466.43,88.19 L467.62,87.97 L468.81,87.77 L470.01,87.60 L471.20,87.45 L472.39,87.30 L473.59,87.14 L474.78,86.94 L475.97,86.70 L477.16,86.41 L478.36,86.09 L479.55,85.74 L480.74,85.38 L481.93,85.01 L483.13,84.60 L484.32,84.18 L485.51,83.74 L486.71,83.30 L487.90,82.86 L489.09,82.43 L490.28,81.99 L491.48,81.54 L492.67,81.11 L493.86,80.68 L495.05,80.28 L496.25,79.90 L497.44,79.53 L498.63,79.17 L499.83,78.82 L501.02,78.50 L502.21,78.19 L503.40,77.90 L504.60,77.62 L505.79,77.34 L506.98,77.06 L508.17,76.75 L509.37,76.42 L510.56,76.07 L511.75,75.71 L512.95,75.35 L514.14,75.01 L515.33,74.69 L516.52,74.40 L517.72,74.12 L518.91,73.84 L520.10,73.57 L521.29,73.31 L522.49,73.07 L523.68,72.84 L524.87,72.64 L526.07,72.46 L527.26,72.29 L528.45,72.13 L529.64,71.98 L530.84,71.83 L532.03,71.70 L533.22,71.58 L534.41,71.47 L535.61,71.38 L536.80,71.30" fill="none" stroke="#2ca02c" stroke-width="1.85" stroke-linejoin="round"/>
</g>
<path d="M60.8,25.35h2.7 M536.6,25.35h-2.7 M60.8,68.25h2.7 M536.6,68.25h-2.7 M60.8,111.15h2.7 M536.6,111.15h-2.7 M60.8,154.05h2.7 M536.6,154.05h-2.7 M60.8,196.95h2.7 M536.6,196.95h-2.7 M60.8,239.85h2.7 M536.6,239.85h-2.7 M60.8,282.75h2.7 M536.6,282.75h-2.7 M60.8,325.65h2.7 M536.6,325.65h-2.7 M60.8,368.55h2.7 M536.6,368.55h-2.7 M164.90,383.4v-2.7 M164.90,8.4v2.7 M319.80,383.4v-2.7 M319.80,8.4v2.7 M474.70,383.4v-2.7 M474.70,8.4v2.7" stroke="#000" stroke-width="0.8" fill="none"/>
<path d="M83.91,383.4v-1.7 M83.91,8.4v1.7 M103.26,383.4v-1.7 M103.26,8.4v1.7 M118.27,383.4v-1.7 M118.27,8.4v1.7 M130.54,383.4v-1.7 M130.54,8.4v1.7 M140.91,383.4v-1.7 M140.91,8.4v1.7 M149.89,383.4v-1.7 M149.89,8.4v1.7 M157.81,383.4v-1.7 M157.81,8.4v1.7 M211.53,383.4v-1.7 M211.53,8.4v1.7 M238.81,383.4v-1.7 M238.81,8.4v1.7 M258.16,383.4v-1.7 M258.16,8.4v1.7 M273.17,383.4v-1.7 M273.17,8.4v1.7 M285.44,383.4v-1.7 M285.44,8.4v1.7 M295.81,383.4v-1.7 M295.81,8.4v1.7 M304.79,383.4v-1.7 M304.79,8.4v1.7 M312.71,383.4v-1.7 M312.71,8.4v1.7 M366.43,383.4v-1.7 M366.43,8.4v1.7 M393.71,383.4v-1.7 M393.71,8.4v1.7 M413.06,383.4v-1.7 M413.06,8.4v1.7 M428.07,383.4v-1.7 M428.07,8.4v1.7 M440.34,383.4v-1.7 M440.34,8.4v1.7 M450.71,383.4v-1.7 M450.71,8.4v1.7 M459.69,383.4v-1.7 M459.69,8.4v1.7 M467.61,383.4v-1.7 M467.61,8.4v1.7 M521.33,383.4v-1.7 M521.33,8.4v1.7" stroke="#000" stroke-width="0.6" fill="none"/>
<rect x="60.8" y="8.4" width="475.8" height="375.0" fill="none" stroke="#000" stroke-width="0.8"/>
<g stroke="#000" stroke-width="0.16">
<text x="57.4" y="29.30" font-size="10.9" text-anchor="end" textLength="22.6" lengthAdjust="spacingAndGlyphs">0.00</text>
<text x="57.4" y="72.20" font-size="10.9" text-anchor="end" textLength="22.6" lengthAdjust="spacingAndGlyphs">0.01</text>
<path d="M26.9,69.00H33.5" stroke="#000" stroke-width="0.95" fill="none"/>
<text x="57.4" y="115.10" font-size="10.9" text-anchor="end" textLength="22.6" lengthAdjust="spacingAndGlyphs">0.02</text>
<path d="M26.9,111.90H33.5" stroke="#000" stroke-width="0.95" fill="none"/>
<text x="57.4" y="158.00" font-size="10.9" text-anchor="end" textLength="22.6" lengthAdjust="spacingAndGlyphs">0.03</text>
<path d="M26.9,154.80H33.5" stroke="#000" stroke-width="0.95" fill="none"/>
<text x="57.4" y="200.90" font-size="10.9" text-anchor="end" textLength="22.6" lengthAdjust="spacingAndGlyphs">0.04</text>
<path d="M26.9,197.70H33.5" stroke="#000" stroke-width="0.95" fill="none"/>
<text x="57.4" y="243.80" font-size="10.9" text-anchor="end" textLength="22.6" lengthAdjust="spacingAndGlyphs">0.05</text>
<path d="M26.9,240.60H33.5" stroke="#000" stroke-width="0.95" fill="none"/>
<text x="57.4" y="286.70" font-size="10.9" text-anchor="end" textLength="22.6" lengthAdjust="spacingAndGlyphs">0.06</text>
<path d="M26.9,283.50H33.5" stroke="#000" stroke-width="0.95" fill="none"/>
<text x="57.4" y="329.60" font-size="10.9" text-anchor="end" textLength="22.6" lengthAdjust="spacingAndGlyphs">0.07</text>
<path d="M26.9,326.40H33.5" stroke="#000" stroke-width="0.95" fill="none"/>
<text x="57.4" y="372.50" font-size="10.9" text-anchor="end" textLength="22.6" lengthAdjust="spacingAndGlyphs">0.08</text>
<path d="M26.9,369.30H33.5" stroke="#000" stroke-width="0.95" fill="none"/>
</g>
<g stroke="#000" stroke-width="0.16">
<text x="156.10" y="394.45" font-size="10.9" textLength="12.6" lengthAdjust="spacingAndGlyphs">10</text>
<text x="169.00" y="390.4" font-size="7.6" textLength="4.3" lengthAdjust="spacingAndGlyphs">0</text>
<text x="311.00" y="394.45" font-size="10.9" textLength="12.6" lengthAdjust="spacingAndGlyphs">10</text>
<text x="323.90" y="390.4" font-size="7.6" textLength="4.3" lengthAdjust="spacingAndGlyphs">1</text>
<text x="465.90" y="394.45" font-size="10.9" textLength="12.6" lengthAdjust="spacingAndGlyphs">10</text>
<text x="478.80" y="390.4" font-size="7.6" textLength="4.3" lengthAdjust="spacingAndGlyphs">2</text>
</g>
<g transform="translate(20.9,240.9) rotate(-90)" fill="#111"><text class="serif" x="-1.3" y="0" font-size="14.2" textLength="21.4" lengthAdjust="spacingAndGlyphs">100</text><path d="M25.2,-7.1l7,7M25.2,-0.1l7,-7" stroke="#111" stroke-width="0.75" fill="none"/><text class="serif" x="38.6" y="0" font-size="14.2" font-style="italic">δ</text><text class="serif" x="46.4" y="0" font-size="15.399999999999999" font-style="italic" textLength="10.6" lengthAdjust="spacingAndGlyphs">X</text><text class="serif" x="57.4" y="2.6" font-size="10.6" font-style="italic">n</text><text class="serif" x="60.0" y="-6.8" font-size="11.4" textLength="18.2" lengthAdjust="spacingAndGlyphs">[FO]</text></g>
<g fill="#111">
<path d="M247.4,417.0C247.9,414.7 249.2,413.5 250.5,413.5C252.5,413.5 253.3,415.6 253.5,418.4C253.7,420.8 253.2,423.0 252.5,424.9" stroke="#111" stroke-width="1.05" fill="none" stroke-linecap="round"/>
<path d="M256.8,413.5C256.1,416.2 254.4,420.2 252.9,423.6" stroke="#111" stroke-width="0.65" fill="none" stroke-linecap="round"/>
<text class="serif" x="281.2" y="411.8" font-size="13.2" textLength="7.3" lengthAdjust="spacingAndGlyphs">Γ</text>
<text class="serif" x="288.9" y="413.85" font-size="9.4" font-style="italic">n</text>
<text class="serif" x="302.6" y="413.85" font-size="9.4" font-style="italic" textLength="5.4" lengthAdjust="spacingAndGlyphs">p</text>
<text class="serif" x="317.2" y="411.8" font-size="13.2" textLength="7.3" lengthAdjust="spacingAndGlyphs">Γ</text>
<text class="serif" x="325.0" y="413.85" font-size="9.4" font-style="italic" textLength="5.4" lengthAdjust="spacingAndGlyphs">p</text>
<text class="serif" x="339.0" y="413.85" font-size="9.4" font-style="italic">n</text>
<text class="serif" x="307.0" y="427.75" font-size="12.7" font-style="italic" textLength="10.2" lengthAdjust="spacingAndGlyphs">H</text>
</g>
<path d="M262.5,416.0h11.6M262.5,418.9h11.6" stroke="#111" stroke-width="0.85" fill="none"/>
<path d="M280.9,416.75H344.4" stroke="#111" stroke-width="0.85" fill="none"/>
<path d="M308.8,408.9h8.2M312.9,404.9v8.0" stroke="#111" stroke-width="0.85" fill="none"/>
<path d="M293.3,411.8H302.2M299.8,410.0Q300.8,411.5 302.2,411.8Q300.8,412.1 299.8,413.6M330.4,411.8H338.4M336.0,410.0Q337.0,411.5 338.4,411.8Q337.0,412.1 336.0,413.6" stroke="#111" stroke-width="0.75" fill="none"/>
<rect x="347.1" y="262.4" width="184.1" height="115.7" rx="2.2" ry="2.2" fill="#fff" fill-opacity="0.8" stroke="#cccccc" stroke-opacity="0.62" stroke-width="1.35"/>
<g stroke="#000" stroke-width="0.17">
<path d="M351.1,273.7H374.6" stroke="#1f77b4" stroke-width="1.85" fill="none" stroke-dasharray="9.75 2.44 1.52 2.44"/>
<text x="383.7" y="277.10" font-size="10.9" font-style="italic" textLength="6.8" lengthAdjust="spacingAndGlyphs">T</text>
<text x="390.6" y="279.20" font-size="8.1" font-style="italic" textLength="4.15" lengthAdjust="spacingAndGlyphs">ν</text>
<path d="M384.6,267.80 q3.1,-3.4 6.2,0" stroke="#000" stroke-width="0.85" fill="none"/>
<text x="399.2" y="277.10" font-size="10.9" textLength="25.8" lengthAdjust="spacingAndGlyphs">(NO)</text>
<path d="M351.1,290.6H374.6" stroke="#ff7f0e" stroke-width="1.85" fill="none" stroke-dasharray="9.75 2.44 1.52 2.44"/>
<text x="383.7" y="294.00" font-size="10.9" font-style="italic" textLength="6.8" lengthAdjust="spacingAndGlyphs">T</text>
<text x="390.6" y="296.10" font-size="8.1" font-style="italic" textLength="4.15" lengthAdjust="spacingAndGlyphs">ν</text>
<text x="395.0" y="297.50" font-size="6.4" font-style="italic" stroke="none">e</text>
<text x="398.7" y="294.40" font-size="12.5">,</text>
<text x="408.7" y="294.00" font-size="10.9" textLength="106.6" lengthAdjust="spacingAndGlyphs">no distortions (NO)</text>
<path d="M351.1,309.5H374.6" stroke="#2ca02c" stroke-width="1.85" fill="none" stroke-dasharray="9.75 2.44 1.52 2.44"/>
<text x="383.7" y="312.90" font-size="10.9" font-style="italic" textLength="6.8" lengthAdjust="spacingAndGlyphs">T</text>
<text x="390.6" y="315.00" font-size="8.1" font-style="italic" textLength="4.15" lengthAdjust="spacingAndGlyphs">ν</text>
<text x="395.0" y="316.40" font-size="6.4" font-style="italic" stroke="none">e</text>
<text x="398.7" y="313.30" font-size="12.5">,</text>
<text x="408.7" y="312.90" font-size="10.9" textLength="116.4" lengthAdjust="spacingAndGlyphs">with distortions (NO)</text>
<path d="M351.1,330.0H374.6" stroke="#1f77b4" stroke-width="1.85" fill="none"/>
<text x="383.7" y="333.40" font-size="10.9" font-style="italic" textLength="6.8" lengthAdjust="spacingAndGlyphs">T</text>
<text x="390.6" y="335.50" font-size="8.1" font-style="italic" textLength="4.15" lengthAdjust="spacingAndGlyphs">ν</text>
<path d="M384.6,324.10 q3.1,-3.4 6.2,0" stroke="#000" stroke-width="0.85" fill="none"/>
<path d="M351.1,347.5H374.6" stroke="#ff7f0e" stroke-width="1.85" fill="none"/>
<text x="383.7" y="350.90" font-size="10.9" font-style="italic" textLength="6.8" lengthAdjust="spacingAndGlyphs">T</text>
<text x="390.6" y="353.00" font-size="8.1" font-style="italic" textLength="4.15" lengthAdjust="spacingAndGlyphs">ν</text>
<text x="395.0" y="354.40" font-size="6.4" font-style="italic" stroke="none">e</text>
<text x="398.7" y="351.30" font-size="12.5">,</text>
<text x="408.7" y="350.90" font-size="10.9" textLength="76.8" lengthAdjust="spacingAndGlyphs">no distortions</text>
<path d="M351.1,365.8H374.6" stroke="#2ca02c" stroke-width="1.85" fill="none"/>
<text x="383.7" y="369.20" font-size="10.9" font-style="italic" textLength="6.8" lengthAdjust="spacingAndGlyphs">T</text>
<text x="390.6" y="371.30" font-size="8.1" font-style="italic" textLength="4.15" lengthAdjust="spacingAndGlyphs">ν</text>
<text x="395.0" y="372.70" font-size="6.4" font-style="italic" stroke="none">e</text>
<text x="398.7" y="369.60" font-size="12.5">,</text>
<text x="408.7" y="369.20" font-size="10.9" textLength="86.2" lengthAdjust="spacingAndGlyphs">with distortions</text>
</g>
</svg></body></html>
